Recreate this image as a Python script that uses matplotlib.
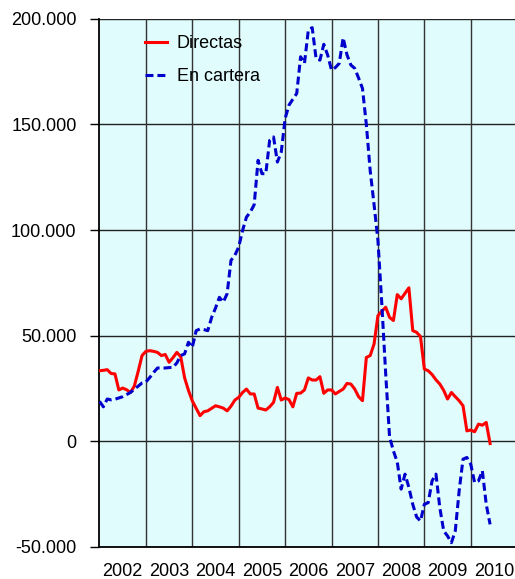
"""
Inversiones directas y en cartera (miles), serie mensual 2002-2010.
Salida: out.png
"""
import numpy as np
import matplotlib
matplotlib.use("Agg")
import matplotlib.pyplot as plt
from matplotlib.ticker import FuncFormatter

# -------------------------------------------------------
# Datos (mensuales desde ene-2002)
# -------------------------------------------------------
START_YEAR = 2002

directas = [
    33.3, 33.5, 33.8, 32.0, 31.8, 24.2, 25.1, 24.3, 23.0, 26.0, 33.0, 40.5,
    42.5, 42.8, 42.5, 42.0, 40.5, 41.0, 37.3, 39.5, 42.0, 40.0, 30.0, 24.0,
    19.0, 15.5, 12.0, 13.9, 14.3, 15.5, 16.7, 16.2, 15.6, 14.3, 16.5, 19.4,
    20.7, 23.0, 24.6, 22.3, 22.3, 15.6, 15.2, 14.7, 16.2, 18.3, 25.4, 19.4,
    20.4, 19.6, 16.2, 22.6, 22.7, 24.2, 29.9, 28.9, 28.9, 30.5, 22.6, 24.2,
    24.2, 22.3, 23.5, 24.6, 27.3, 27.0, 24.6, 21.0, 19.1, 39.6, 40.5, 46.0,
    59.4, 61.5, 63.4, 58.6, 57.1, 69.4, 67.4, 70.0, 72.6, 52.3, 51.5, 49.5,
    34.1, 33.3, 31.5, 29.0, 27.0, 24.0, 19.9, 23.0, 21.0, 19.1, 16.7, 4.8,
    5.2, 4.4, 8.0, 7.5, 8.8, -1.2,
]

en_cartera = [
    18.8, 16.2, 19.9, 19.5, 19.8, 20.4, 21.0, 22.0, 23.0, 24.5, 26.0, 27.5,
    28.0, 30.1, 32.5, 34.6, 34.6, 34.6, 34.8, 34.9, 37.0, 40.5, 41.3, 46.8,
    44.4, 52.3, 53.1, 52.8, 52.3, 58.6, 63.0, 68.1, 65.8, 69.8, 85.6, 88.0,
    92.0, 99.8, 106.1, 108.5, 112.0, 133.0, 126.7, 126.7, 142.5, 144.1, 132.2, 137.0,
    152.8, 159.2, 162.0, 164.7, 182.1, 179.0, 194.8, 195.9, 181.3, 180.5, 188.0, 182.9,
    175.8, 177.0, 179.0, 191.1, 183.0, 178.2, 176.6, 172.0, 167.1, 150.0, 128.0, 112.0,
    95.0, 65.0, 32.0, 2.0, -4.7, -10.0, -22.8, -15.7, -22.0, -30.0, -36.0, -37.9,
    -30.0, -29.2, -18.9, -15.7, -31.6, -42.6, -45.0, -48.2, -42.6, -23.6, -8.6, -7.8,
    -11.0, -19.7, -18.9, -14.1, -30.0, -39.5,
]

years = list(range(2002, 2011))
y_ticks = [-50000, 0, 50000, 100000, 150000, 200000]


def fmt_miles(v, pos):
    # formato español: 200.000
    if v == 0:
        return "0"
    return f"{int(v):,}".replace(",", ".")


def main():
    plt.rcParams["font.family"] = ["Liberation Sans", "DejaVu Sans"]

    t = START_YEAR + np.arange(len(directas)) / 12.0
    d = np.array(directas) * 1000
    c = np.array(en_cartera) * 1000

    fig = plt.figure(figsize=(5.15, 5.79), dpi=100)
    ax = fig.add_axes([0.1932, 0.0561, 0.811, 0.9111])
    ax.set_facecolor("#e0fcfc")

    ax.plot(t, d, "-", color="#ff0000", linewidth=2.2, label="Directas", zorder=3)
    ax.plot(t, c, "--", color="#0000cc", linewidth=2.2, dashes=(2.6, 1.3),
            label="En cartera", zorder=3)

    ax.set_xlim(2002, 2011)
    ax.set_ylim(-50000, 200000)

    # rejilla: líneas horizontales y separadores de años
    for yv in y_ticks:
        ax.axhline(yv, color="#222222", linewidth=1.0, zorder=1)
    for yr in years[1:]:
        ax.axvline(yr, color="#333333", linewidth=1.0, zorder=1)

    ax.set_yticks(y_ticks)
    ax.yaxis.set_major_formatter(FuncFormatter(fmt_miles))
    ax.tick_params(axis="y", direction="out", length=6.5, width=1.0,
                   pad=10, labelsize=13)

    ax.set_xticks([])
    ax.set_xticks([yr + 0.5 for yr in years], minor=True)
    ax.set_xticklabels([str(yr) for yr in years], minor=True)
    ax.tick_params(axis="x", which="minor", length=0, pad=12, labelsize=13)

    for s in ("top", "right"):
        ax.spines[s].set_visible(False)
    ax.spines["left"].set_linewidth(1.3)
    ax.spines["bottom"].set_linewidth(1.3)

    ax.legend(loc="upper left", bbox_to_anchor=(0.109, 0.9695), frameon=False,
              fontsize=13, borderpad=0, borderaxespad=0, handlelength=1.22,
              handletextpad=0.55, labelspacing=0.88)

    fig.savefig("out.png", dpi=100)
    plt.close(fig)


if __name__ == "__main__":
    main()
